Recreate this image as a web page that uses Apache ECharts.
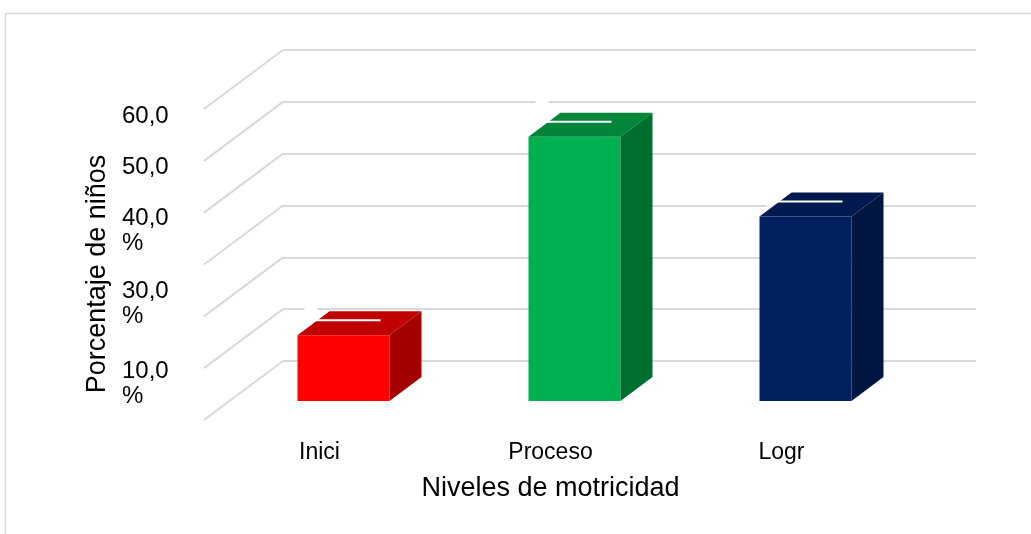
<!DOCTYPE html>
<html><head><meta charset="utf-8">
<script src="https://cdn.jsdelivr.net/npm/echarts@6/dist/echarts.min.js"></script>
<style>html,body{margin:0;padding:0;background:#fff}#c{width:1031px;height:534px}</style>
</head><body><div id="c"></div>
<script>
// ---- data ----
const categories = ['Inici', 'Proceso', 'Logr'];
const values = [12.7, 51.0, 35.6];
const yTickValues = [0, 10, 20, 30, 40, 50, 60];
const yTickLabels = ['', '10,0\n%', '', '30,0\n%', '40,0\n%', '50,0', '60,0'];
const yTitle = 'Porcentaje de niños';
const xTitle = 'Niveles de motricidad';

// ---- styles ----
const FONT = 'Liberation Sans, Arial, sans-serif';
const frontColors = ['#FF0000', '#00B050', '#002060'];
const topColors = ['#C00000', '#00853A', '#001A4F'];
const sideColors = ['#A30000', '#006E2E', '#00153F'];
const GRID_COLOR = '#D9D9D9';
const spacerH = { 10: 31, 30: 78, 40: 36, 50: 14, 60: 14 };
const FRONT_DX = -55, FRONT_DY = 40, DEPTH_X = 32, DEPTH_Y = -24, BAR_W = 92;
const WALL_DX = -79, WALL_DY = 59;

const rich = { a: { fontSize: 24, lineHeight: 25, fontFamily: FONT, color: '#000' } };
Object.keys(spacerH).forEach(k => { rich['s' + k] = { fontSize: 1, lineHeight: spacerH[k] }; });

const chart = echarts.init(document.getElementById('c'), null, { renderer: 'canvas' });
chart.setOption({
  animation: false,
  backgroundColor: '#fff',
  textStyle: { fontFamily: FONT },
  graphic: [{
    type: 'rect', z: -10, silent: true,
    shape: { x: 5.5, y: 13.5, width: 1100, height: 600 },
    style: { fill: 'none', stroke: GRID_COLOR, lineWidth: 1.5 }
  }],
  grid: [
    { left: 283, top: 50, width: 693, height: 311 },
    { left: 204, top: 109, width: 693, height: 311 }
  ],
  xAxis: [
    { gridIndex: 0, type: 'category', data: categories, axisLine: { show: false }, axisTick: { show: false }, axisLabel: { show: false } },
    { gridIndex: 1, type: 'category', data: categories, axisLine: { show: false }, axisTick: { show: false },
      axisLabel: { margin: 21, fontSize: 23, color: '#000', fontFamily: FONT },
      name: xTitle, nameLocation: 'middle', nameGap: 55,
      nameTextStyle: { fontSize: 27, color: '#000', fontFamily: FONT } }
  ],
  yAxis: [
    { gridIndex: 0, type: 'value', min: 0, max: 60, interval: 10,
      axisLine: { show: false }, axisTick: { show: false }, axisLabel: { show: false },
      splitLine: { show: true, lineStyle: { color: GRID_COLOR, width: 2 } } },
    { gridIndex: 1, type: 'value', min: 0, max: 60, interval: 10,
      axisLine: { show: false }, axisTick: { show: false }, splitLine: { show: false },
      axisLabel: {
        align: 'left', margin: 82, rich: rich,
        formatter: function (v) {
          const i = yTickValues.indexOf(v);
          const t = i >= 0 ? yTickLabels[i] : '';
          if (!t) return '';
          const body = t.split('\n').map(s => '{a|' + s + '}').join('\n');
          return spacerH[v] ? '{s' + v + '| }\n' + body : body;
        }
      },
      name: yTitle, nameLocation: 'middle', nameGap: 93, nameRotate: 90,
      nameTextStyle: { fontSize: 27, color: '#000', fontFamily: FONT, padding: [0, 19, 0, 0] } }
  ],
  series: [
    {
      type: 'custom', xAxisIndex: 0, yAxisIndex: 0, z: 1, silent: true,
      data: yTickValues.map(v => [0, v]),
      renderItem: function (params, api) {
        const p = api.coord([0, api.value(1)]);
        const x0 = params.coordSys.x;
        return { type: 'line', shape: { x1: x0, y1: p[1], x2: x0 + WALL_DX, y2: p[1] + WALL_DY },
                 style: { stroke: GRID_COLOR, lineWidth: 2 } };
      }
    },
    {
      type: 'custom', xAxisIndex: 0, yAxisIndex: 0, z: 3, silent: true,
      data: values.map((v, i) => [i, v]),
      renderItem: function (params, api) {
        const i = api.value(0);
        const top = api.coord([i, api.value(1)]);
        const base = api.coord([i, 0]);
        const fl = top[0] + FRONT_DX - BAR_W / 2, fr = fl + BAR_W;
        const ft = top[1] + FRONT_DY, fb = base[1] + FRONT_DY;
        return { type: 'group', children: [
          { type: 'rect', shape: { x: fl + 7, y: ft - 37, width: 13, height: 27 }, style: { fill: '#fff' } },
          { type: 'rect', shape: { x: fl, y: ft, width: BAR_W, height: fb - ft }, style: { fill: frontColors[i] } },
          { type: 'polygon', shape: { points: [[fl, ft], [fr, ft], [fr + DEPTH_X, ft + DEPTH_Y], [fl + DEPTH_X, ft + DEPTH_Y]] }, style: { fill: topColors[i] } },
          { type: 'polygon', shape: { points: [[fr, ft], [fr + DEPTH_X, ft + DEPTH_Y], [fr + DEPTH_X, fb + DEPTH_Y], [fr, fb]] }, style: { fill: sideColors[i] } },
          { type: 'line', shape: { x1: fl + 16, y1: ft - 15, x2: fl + 83, y2: ft - 15 }, style: { stroke: '#fff', lineWidth: 2 } }
        ] };
      }
    }
  ]
});
</script></body></html>
